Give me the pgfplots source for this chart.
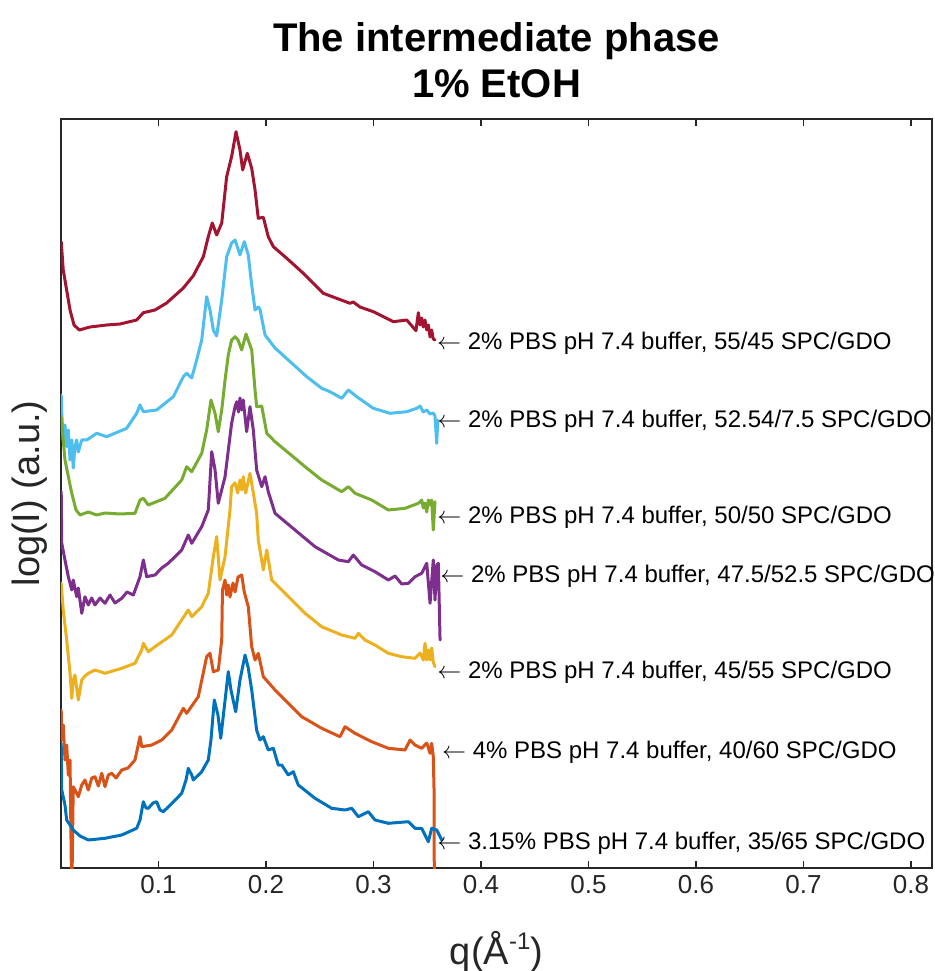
\documentclass[border=0pt]{standalone}
\usepackage{pgfplots}
\pgfplotsset{compat=1.18}
\usepackage{fontspec}
\setmainfont{Liberation Sans}
\definecolor{mblue}{rgb}{0,0.447,0.741}
\definecolor{morange}{rgb}{0.850,0.325,0.098}
\definecolor{myellow}{rgb}{0.929,0.694,0.125}
\definecolor{mpurple}{rgb}{0.494,0.184,0.556}
\definecolor{mgreen}{rgb}{0.466,0.674,0.188}
\definecolor{mcyan}{rgb}{0.301,0.745,0.933}
\definecolor{mred}{rgb}{0.635,0.078,0.184}
\definecolor{mgray}{rgb}{0.15,0.15,0.15}
\begin{document}
\begin{tikzpicture}
\begin{axis}[
  at={(0,0)}, anchor=south west,
  scale only axis, width=435.5pt, height=374.5pt,
  xmin=0.0093, xmax=0.8195, ymin=132, ymax=881,
  xtick={0.1,0.2,0.3,0.4,0.5,0.6,0.7,0.8},
  xticklabels={0.1,0.2,0.3,0.4,0.5,0.6,0.7,0.8},
  ytick=\empty,
  tick align=inside, major tick length=3.5pt,
  axis line style={color=mgray, line width=0.6pt},
  every tick/.style={color=mgray, line width=0.6pt},
  xticklabel style={font=\fontsize{13}{15}\selectfont, text=mgray},
  /pgf/number format/assume math mode=true,
  clip mode=individual,
  every axis plot/.append style={line width=1.5pt, line join=round, line cap=round, mark=none},
]
% red 55/45
\addplot[mred] coordinates {
(0.0095,758.3)(0.0114,730)(0.0177,690)(0.0214,675)(0.0263,670)(0.0363,673)(0.0518,675)(0.0642,676)(0.0797,680)(0.0859,687.3)(0.0967,690)(0.1076,697)(0.1231,712)(0.1324,724.3)(0.1417,743.3)(0.1463,763.3)(0.1500,777)(0.1541,765)(0.1588,777)(0.1634,823.3)(0.1680,843.3)(0.1721,868.3)(0.1758,850)(0.1783,830)(0.1826,846.7)(0.1867,831.7)(0.1898,810)(0.1928,781.7)(0.1975,782.7)(0.2021,763.3)(0.2068,753.3)(0.2193,741.7)(0.2347,726.7)(0.2533,706.7)(0.2781,696.7)(0.2812,698)(0.2874,693)(0.2998,688.3)(0.3184,678.3)(0.3309,680)(0.3395,669.3)(0.3417,687.3)(0.3433,675)(0.3448,682)(0.3463,673)(0.3479,680)(0.3495,670)(0.3510,675)(0.3526,663)(0.3541,670)(0.3556,661)(0.3572,660)
};
% cyan
\addplot[mcyan] coordinates {
(0.0095,605)(0.0100,587)(0.0114,560)(0.0130,575)(0.0146,553.3)(0.0161,570)(0.0177,540)(0.0193,560)(0.0207,532)(0.0223,553.3)(0.0239,560)(0.0254,548)(0.0286,560)(0.0332,560)(0.0425,566.7)(0.0518,563.3)(0.0704,571.7)(0.0797,586.7)(0.0828,595)(0.0859,588.3)(0.0983,590)(0.1138,603.3)(0.1231,623.3)(0.1262,626.7)(0.1309,622)(0.1355,640)(0.1402,660)(0.1448,703.3)(0.1479,690)(0.1510,670)(0.1541,664)(0.1588,700)(0.1634,743.3)(0.1680,757)(0.1712,760)(0.1758,745)(0.1798,758.3)(0.1835,745)(0.1867,715)(0.1898,690)(0.1928,693)(0.1944,690.7)(0.1991,665)(0.2084,652)(0.2207,640)(0.2379,623.3)(0.2518,611.7)(0.2595,608.3)(0.2704,601.7)(0.2766,610)(0.2844,603.3)(0.2998,591.7)(0.3153,586.7)(0.3309,588.3)(0.3402,591.7)(0.3433,594)(0.3463,588)(0.3495,590)(0.3526,586)(0.3556,587)(0.3572,584)(0.3588,556.7)(0.3597,580)
};
% green
\addplot[mgreen] coordinates {
(0.0095,583.3)(0.0130,540)(0.0193,506.7)(0.0233,490)(0.0270,485)(0.0347,488)(0.0425,485)(0.0502,487)(0.0642,486)(0.0781,486.7)(0.0828,500)(0.0859,501.7)(0.0905,495)(0.1060,501.7)(0.1216,520)(0.1262,533.3)(0.1309,528.3)(0.1402,546.7)(0.1448,570)(0.1488,600)(0.1526,586.7)(0.1556,568.3)(0.1588,590)(0.1619,620)(0.1649,645)(0.1680,660)(0.1712,663.3)(0.1740,660)(0.1774,650)(0.1814,666)(0.1867,650)(0.1898,610)(0.1913,593.3)(0.1960,594)(0.2007,566.7)(0.2084,558.3)(0.2270,541.7)(0.2363,533.3)(0.2518,520)(0.2704,508.3)(0.2766,513.3)(0.2828,506.7)(0.2983,500)(0.3138,490)(0.3293,491.7)(0.3417,496.7)(0.3448,500)(0.3463,492)(0.3479,497)(0.3495,488)(0.3510,500)(0.3526,495)(0.3541,500)(0.3556,470)(0.3572,498.3)
};
% purple
\addplot[mpurple] coordinates {
(0.0095,508.3)(0.0100,456.7)(0.0130,440)(0.0161,423.3)(0.0193,410)(0.0207,420)(0.0239,403.3)(0.0254,412)(0.0286,386.7)(0.0316,403.3)(0.0347,395)(0.0379,402)(0.0409,395)(0.0456,402)(0.0502,396.7)(0.0549,405)(0.0595,397)(0.0658,401.7)(0.0707,408)(0.0766,405)(0.0828,423.3)(0.0859,440)(0.0890,423.3)(0.0967,425)(0.1030,432)(0.1091,436.7)(0.1216,450)(0.1277,465)(0.1309,456.7)(0.1402,473.3)(0.1463,490)(0.1495,548.3)(0.1526,530)(0.1556,496.7)(0.1619,523.3)(0.1680,576.7)(0.1712,593.3)(0.1728,598.3)(0.1744,588)(0.1758,602)(0.1774,590)(0.1788,600)(0.1820,568.3)(0.1851,593.3)(0.1882,570)(0.1913,530)(0.1960,513.3)(0.1991,523.3)(0.2021,508.3)(0.2084,486.7)(0.2270,470)(0.2456,453.3)(0.2673,440)(0.2766,438.3)(0.2812,445)(0.2890,435)(0.3014,428.3)(0.3138,420)(0.3200,424)(0.3262,416)(0.3324,416.7)(0.3386,423.3)(0.3448,426.7)(0.3495,436.7)(0.3526,396.7)(0.3556,440)(0.3572,400)(0.3588,435)(0.3603,436.7)(0.3619,360)
};
% yellow
\addplot[myellow] coordinates {
(0.0095,416.7)(0.0114,390)(0.0146,360)(0.0177,326.7)(0.0193,301.7)(0.0207,320)(0.0223,325)(0.0254,300)(0.0286,320)(0.0316,324)(0.0347,326.7)(0.0409,330)(0.0502,326.7)(0.0658,331.7)(0.0781,336.7)(0.0844,350)(0.0859,356.7)(0.0905,348.3)(0.0967,353.3)(0.1123,365)(0.1277,390)(0.1309,383.3)(0.1402,393.3)(0.1463,406.7)(0.1510,443.3)(0.1541,463.3)(0.1572,420)(0.1619,443.3)(0.1665,490)(0.1680,513.3)(0.1712,517)(0.1737,507)(0.1758,520)(0.1774,510)(0.1788,523.3)(0.1811,507)(0.1851,526.7)(0.1882,507)(0.1913,486.7)(0.1928,460)(0.1975,430)(0.2007,450)(0.2053,420)(0.2146,410)(0.2270,396.7)(0.2363,386.7)(0.2518,373.3)(0.2704,365)(0.2828,361.7)(0.2859,366.7)(0.2921,360)(0.3014,355)(0.3138,346.7)(0.3262,343.3)(0.3386,341.7)(0.3433,347)(0.3463,340)(0.3479,356.7)(0.3495,340)(0.3510,350)(0.3526,340)(0.3541,352)(0.3556,338)(0.3572,333.3)
};
% orange
\addplot[morange] coordinates {
(0.0095,290)(0.0100,260)(0.0114,275)(0.0130,240)(0.0146,255)(0.0161,225)(0.0177,240)(0.0193,100)(0.0207,213.3)(0.0223,210)(0.0254,203.3)(0.0286,215)(0.0316,220)(0.0347,210)(0.0379,222)(0.0409,223.3)(0.0440,214)(0.0472,226.7)(0.0502,213.3)(0.0533,225)(0.0565,226.7)(0.0605,222)(0.0658,230)(0.0716,232)(0.0781,240)(0.0828,263.3)(0.0844,253.3)(0.0937,255)(0.1030,260)(0.1123,270)(0.1231,291.7)(0.1262,286.7)(0.1370,303.3)(0.1448,343.3)(0.1479,346.7)(0.1510,328.3)(0.1556,330)(0.1588,360)(0.1595,410)(0.1619,420)(0.1634,405)(0.1649,415)(0.1665,403)(0.1693,417)(0.1712,408)(0.1740,423)(0.1774,425)(0.1798,408)(0.1835,393.3)(0.1867,353.3)(0.1898,340)(0.1928,346.7)(0.1975,323.3)(0.2084,310)(0.2207,296.7)(0.2332,283.3)(0.2518,271.7)(0.2688,263.3)(0.2735,273.3)(0.2828,266.7)(0.2983,258.3)(0.3138,251.7)(0.3293,250)(0.3340,260)(0.3386,255)(0.3448,251.7)(0.3495,257)(0.3526,246.7)(0.3541,256.7)(0.3556,243.3)(0.3563,210)(0.3566,100)
};
% blue
\addplot[mblue] coordinates {
(0.0095,256.7)(0.0100,210)(0.0130,195)(0.0146,180)(0.0207,170)(0.0270,164)(0.0347,160)(0.0502,161.7)(0.0658,165)(0.0797,171.7)(0.0828,180)(0.0859,198.3)(0.0884,192)(0.0905,191.7)(0.0949,197)(0.0983,198.3)(0.1014,190)(0.1045,188.3)(0.1138,198)(0.1216,206.7)(0.1256,220)(0.1277,231.7)(0.1309,225)(0.1324,220)(0.1402,228.3)(0.1463,240)(0.1488,260)(0.1519,300)(0.1553,285)(0.1579,261.7)(0.1609,290)(0.1649,328.3)(0.1674,310)(0.1718,288.3)(0.1758,320)(0.1805,345)(0.1835,332)(0.1867,310)(0.1913,270)(0.1944,260)(0.1975,263.3)(0.2021,250)(0.2068,251.7)(0.2114,235)(0.2146,235)(0.2207,225)(0.2254,228.3)(0.2300,215)(0.2456,201.7)(0.2611,191.7)(0.2735,190)(0.2797,191.7)(0.2859,183.3)(0.2952,188.3)(0.3014,180)(0.3138,176.7)(0.3324,178.3)(0.3386,171.7)(0.3448,171.7)(0.3510,158.3)(0.3541,171.7)(0.3588,170)(0.3635,160)
};
\begin{scope}[every node/.style={anchor=west, inner sep=0pt, font=\fontsize{12}{14}\selectfont, text=black}]
\node at (axis cs:0.3588,656.7) {$\leftarrow$ 2\% PBS pH 7.4 buffer, 55/45 SPC/GDO};
\node at (axis cs:0.3591,578.3) {$\leftarrow$ 2\% PBS pH 7.4 buffer, 52.54/7.5 SPC/GDO};
\node at (axis cs:0.3591,482.3) {$\leftarrow$ 2\% PBS pH 7.4 buffer, 50/50 SPC/GDO};
\node at (axis cs:0.3619,423.3) {$\leftarrow$ 2\% PBS pH 7.4 buffer, 47.5/52.5 SPC/GDO};
\node at (axis cs:0.3591,327.3) {$\leftarrow$ 2\% PBS pH 7.4 buffer, 45/55 SPC/GDO};
\node at (axis cs:0.3635,247.3) {$\leftarrow$ 4\% PBS pH 7.4 buffer, 40/60 SPC/GDO};
\node at (axis cs:0.3591,156.7) {$\leftarrow$ 3.15\% PBS pH 7.4 buffer, 35/65 SPC/GDO};
\end{scope}
\end{axis}
\node[align=center, font=\bfseries\fontsize{20}{23}\selectfont] at (217.75pt,404pt) {The intermediate phase\\1\% EtOH};
\node[font=\fontsize{19}{22}\selectfont, text=mgray] at (217.75pt,-42pt) {q(Å\raisebox{0.75ex}{\fontsize{12}{12}\selectfont -1})};
\node[rotate=90, font=\fontsize{19}{22}\selectfont, text=mgray] at (-15.5pt,187.25pt) {log(I) (a.u.)};
\pgfresetboundingbox
\path[use as bounding box] (-30.5pt,-51.5pt) rectangle (437pt,434pt);
\end{tikzpicture}
\end{document}
